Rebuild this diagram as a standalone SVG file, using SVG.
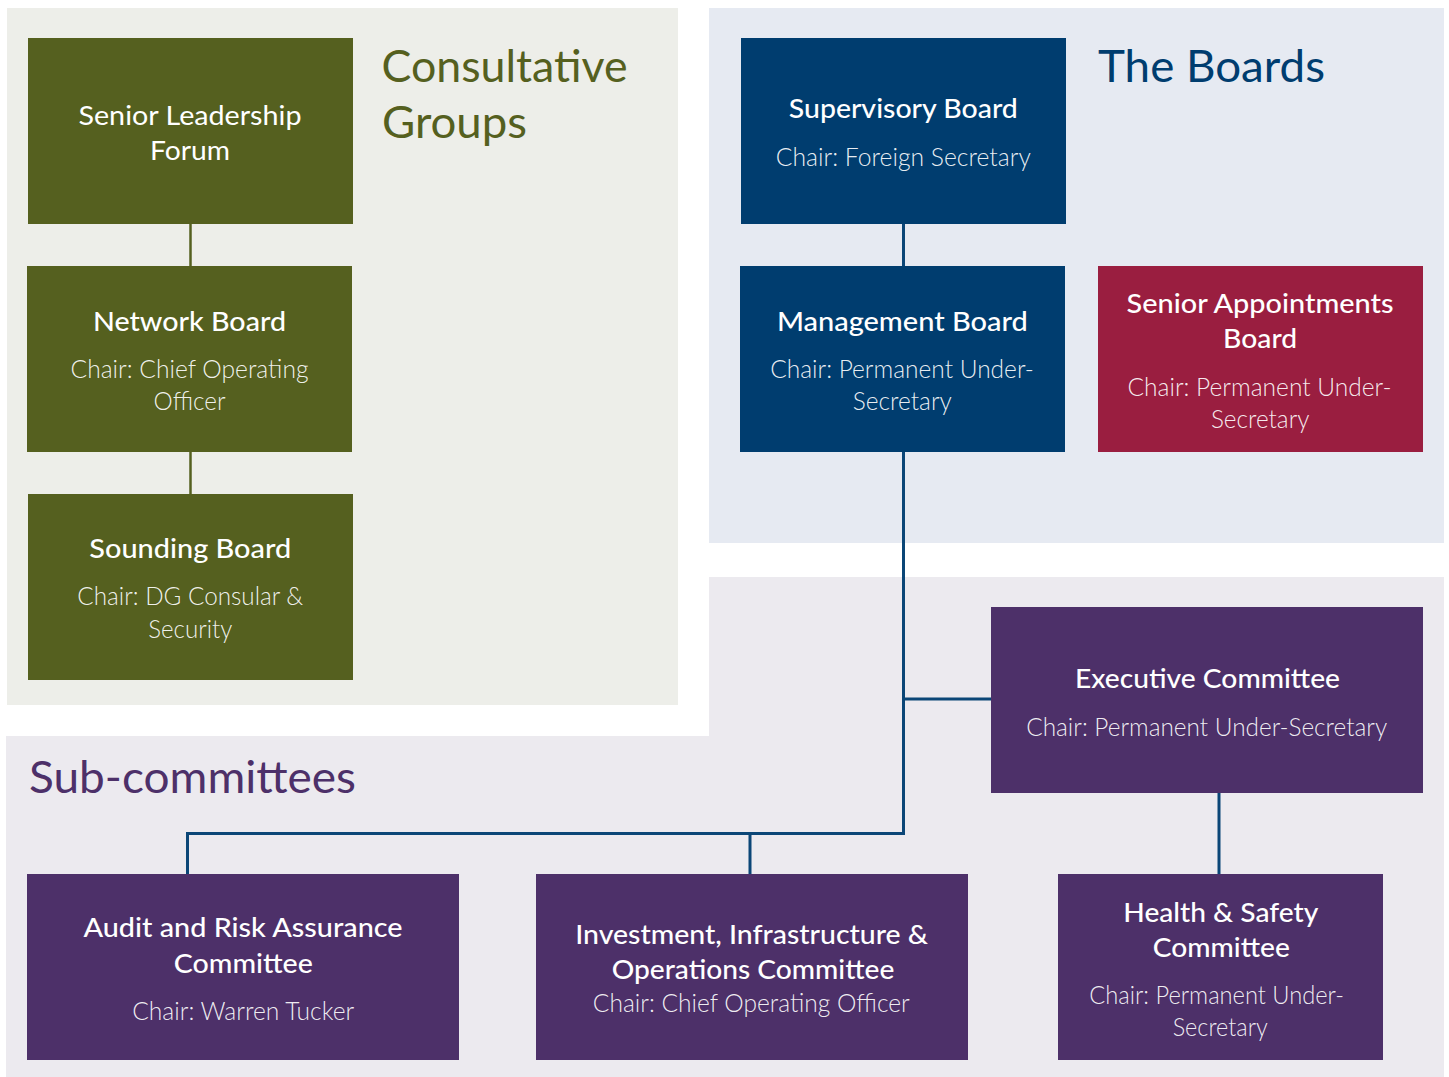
<svg xmlns="http://www.w3.org/2000/svg" width="1449" height="1077" viewBox="0 0 1449 1077">
  <style>
    text { font-family: Lato, "Open Sans", "Liberation Sans", sans-serif; text-anchor: middle; }
    .title { font-size: 27.5px; font-weight: 500; fill: #ffffff; }
    .plain { font-size: 27.5px; font-weight: 400; fill: #ffffff; }
    .chair { font-size: 24.5px; font-weight: 300; fill: #ffffff; fill-opacity: 0.92; }
    .head { font-size: 45px; font-weight: 400; text-anchor: start; }
    .olive { fill: #55601f; }
    .navy { fill: #003d6f; }
    .crimson { fill: #9a1e40; }
    .purple { fill: #4d3069; }
    .conn-olive { stroke: #55601f; stroke-width: 2.5; fill: none; }
    .conn-navy { stroke: #0b4677; stroke-width: 3; fill: none; }
  </style>

  <g id="panels">
    <rect x="7" y="8" width="671" height="697" fill="#edeee9"/>
    <rect x="709" y="8" width="735" height="535" fill="#e6eaf2"/>
    <path d="M709 577 H1444 V1077 H6 V736 H709 Z" fill="#eceaef"/>
  </g>

  <g id="headings">
    <text class="head olive" x="381.5" y="81.7" textLength="246" lengthAdjust="spacingAndGlyphs">Consultative</text>
    <text class="head olive" x="382" y="138" textLength="145" lengthAdjust="spacingAndGlyphs">Groups</text>
    <text class="head navy" x="1098" y="82" textLength="227" lengthAdjust="spacingAndGlyphs">The Boards</text>
    <text class="head purple" x="29" y="792.7" textLength="327" lengthAdjust="spacingAndGlyphs">Sub-committees</text>
  </g>

  <g id="connectors">
    <line class="conn-olive" x1="190.5" y1="223" x2="190.5" y2="267"/>
    <line class="conn-olive" x1="190.5" y1="451" x2="190.5" y2="495"/>
    <line class="conn-navy" x1="903.5" y1="223" x2="903.5" y2="267"/>
    <polyline class="conn-navy" points="903.5,451 903.5,833.5 187.5,833.5 187.5,875"/>
    <line class="conn-navy" x1="903.5" y1="699" x2="992" y2="699"/>
    <line class="conn-navy" x1="750" y1="833.5" x2="750" y2="875"/>
    <line class="conn-navy" x1="1219" y1="792" x2="1219" y2="875"/>
  </g>

  <g id="senior-leadership-forum">
    <rect class="olive" x="28" y="38" width="325" height="186"/>
    <text class="plain" x="190" y="125" textLength="223" lengthAdjust="spacingAndGlyphs">Senior Leadership</text>
    <text class="plain" x="190" y="159.5" textLength="80" lengthAdjust="spacingAndGlyphs">Forum</text>
  </g>

  <g id="network-board">
    <rect class="olive" x="27" y="266" width="325" height="186"/>
    <text class="title" x="189.5" y="330.7" textLength="193" lengthAdjust="spacingAndGlyphs">Network Board</text>
    <text class="chair" x="189.5" y="377.7" textLength="238" lengthAdjust="spacingAndGlyphs">Chair: Chief Operating</text>
    <text class="chair" x="189.5" y="410" textLength="72" lengthAdjust="spacingAndGlyphs">Officer</text>
  </g>

  <g id="sounding-board">
    <rect class="olive" x="28" y="494" width="325" height="186"/>
    <text class="title" x="190.3" y="558" textLength="202" lengthAdjust="spacingAndGlyphs">Sounding Board</text>
    <text class="chair" x="190.3" y="605" textLength="226" lengthAdjust="spacingAndGlyphs">Chair: DG Consular &amp;</text>
    <text class="chair" x="190.3" y="637.5" textLength="84" lengthAdjust="spacingAndGlyphs">Security</text>
  </g>

  <g id="supervisory-board">
    <rect class="navy" x="741" y="38" width="325" height="186"/>
    <text class="title" x="903.3" y="118" textLength="229" lengthAdjust="spacingAndGlyphs">Supervisory Board</text>
    <text class="chair" x="903.3" y="165.7" textLength="255" lengthAdjust="spacingAndGlyphs">Chair: Foreign Secretary</text>
  </g>

  <g id="management-board">
    <rect class="navy" x="740" y="266" width="325" height="186"/>
    <text class="title" x="902.4" y="330.7" textLength="251" lengthAdjust="spacingAndGlyphs">Management Board</text>
    <text class="chair" x="902" y="378.3" textLength="263.6" lengthAdjust="spacingAndGlyphs">Chair: Permanent Under-</text>
    <text class="chair" x="902.3" y="410" textLength="99" lengthAdjust="spacingAndGlyphs">Secretary</text>
  </g>

  <g id="senior-appointments-board">
    <rect class="crimson" x="1098" y="266" width="325" height="186"/>
    <text class="title" x="1260.1" y="313.3" textLength="267" lengthAdjust="spacingAndGlyphs">Senior Appointments</text>
    <text class="title" x="1260.1" y="348.3" textLength="74" lengthAdjust="spacingAndGlyphs">Board</text>
    <text class="chair" x="1259.5" y="396" textLength="264" lengthAdjust="spacingAndGlyphs">Chair: Permanent Under-</text>
    <text class="chair" x="1260.2" y="427.7" textLength="98.5" lengthAdjust="spacingAndGlyphs">Secretary</text>
  </g>

  <g id="executive-committee">
    <rect class="purple" x="991" y="607" width="432" height="186"/>
    <text class="title" x="1207.5" y="688.3" textLength="265" lengthAdjust="spacingAndGlyphs">Executive Committee</text>
    <text class="chair" x="1206.7" y="736" textLength="361" lengthAdjust="spacingAndGlyphs">Chair: Permanent Under-Secretary</text>
  </g>

  <g id="audit-risk-assurance-committee">
    <rect class="purple" x="27" y="874" width="432" height="186"/>
    <text class="title" x="243" y="937.3" textLength="319" lengthAdjust="spacingAndGlyphs">Audit and Risk Assurance</text>
    <text class="title" x="243.3" y="972.7" textLength="139" lengthAdjust="spacingAndGlyphs">Committee</text>
    <text class="chair" x="243.2" y="1020" textLength="222" lengthAdjust="spacingAndGlyphs">Chair: Warren Tucker</text>
  </g>

  <g id="investment-infrastructure-operations-committee">
    <rect class="purple" x="536" y="874" width="432" height="186"/>
    <text class="title" x="751.7" y="944.3" textLength="353" lengthAdjust="spacingAndGlyphs">Investment, Infrastructure &amp;</text>
    <text class="title" x="753" y="979.3" textLength="282.7" lengthAdjust="spacingAndGlyphs">Operations Committee</text>
    <text class="chair" x="751.3" y="1011.7" textLength="317" lengthAdjust="spacingAndGlyphs">Chair: Chief Operating Officer</text>
  </g>

  <g id="health-safety-committee">
    <rect class="purple" x="1058" y="874" width="325" height="186"/>
    <text class="title" x="1220.8" y="921.7" textLength="195" lengthAdjust="spacingAndGlyphs">Health &amp; Safety</text>
    <text class="title" x="1221.3" y="956.7" textLength="137" lengthAdjust="spacingAndGlyphs">Committee</text>
    <text class="chair" x="1216.6" y="1003.5" textLength="254.7" lengthAdjust="spacingAndGlyphs">Chair: Permanent Under-</text>
    <text class="chair" x="1220.2" y="1035.5" textLength="95" lengthAdjust="spacingAndGlyphs">Secretary</text>
  </g>
</svg>
